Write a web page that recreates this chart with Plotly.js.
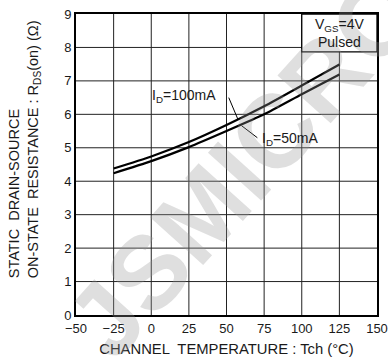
<!DOCTYPE html>
<html>
<head>
<meta charset="utf-8">
<script src="https://cdn.plot.ly/plotly-3.0.1.min.js"></script>
<style>
  html, body { margin: 0; padding: 0; background: #fff; }
  #chart { width: 388px; height: 363px; }
</style>
</head>
<body>
<div id="chart"></div>
<script>
// Channel temperature (°C)
const tempC = [-25, 0, 25, 50, 75, 100, 125];
// Static drain-source on-state resistance (Ω) at VGS = 4 V, pulsed
const rdsId100mA = [4.38, 4.74, 5.17, 5.68, 6.24, 6.86, 7.49];
const rdsId50mA  = [4.24, 4.60, 5.02, 5.50, 6.00, 6.60, 7.19];
const xTicks = [-50, -25, 0, 25, 50, 75, 100, 125, 150];
const yTicks = [0, 1, 2, 3, 4, 5, 6, 7, 8, 9];

const FONT = 'Liberation Sans, Arial, sans-serif';
const INK = '#1a1a1a';

// grid drawn as one line trace through the inner tick values
const gridX = [], gridY = [];
const xLo = xTicks[0], xHi = xTicks[xTicks.length - 1];
const yLo = yTicks[0], yHi = yTicks[yTicks.length - 1];
xTicks.slice(1, -1).forEach(function (v) { gridX.push(v, v, null); gridY.push(yLo, yHi, null); });
yTicks.slice(1, -1).forEach(function (v) { gridX.push(xLo, xHi, null); gridY.push(v, v, null); });

const gridTrace = {
  x: gridX, y: gridY, type: 'scatter', mode: 'lines', connectgaps: false,
  line: { color: '#222222', width: 1 }, hoverinfo: 'skip'
};

const curve = (y, name) => ({
  x: tempC, y: y, name: name, type: 'scatter', mode: 'lines',
  line: { color: '#000000', width: 2.2, shape: 'spline', smoothing: 0.6 },
  hoverinfo: 'skip'
});

const data = [gridTrace, curve(rdsId100mA, 'ID=100mA'), curve(rdsId50mA, 'ID=50mA')];

const layout = {
  width: 388, height: 363,
  margin: { l: 76, r: 11, t: 14, b: 48 },
  paper_bgcolor: '#ffffff', plot_bgcolor: '#ffffff',
  showlegend: false,
  font: { family: FONT, color: INK },
  xaxis: {
    range: [xLo, xHi],
    tickmode: 'array', tickvals: xTicks,
    showline: true, mirror: true, linecolor: '#000000', linewidth: 2,
    showgrid: false, zeroline: false, ticks: '',
    tickfont: { family: FONT, size: 13, color: INK },
    title: { text: 'CHANNEL  TEMPERATURE : Tch (°C)', font: { family: FONT, size: 14.8, color: INK }, standoff: 9 }
  },
  yaxis: {
    range: [yLo, yHi],
    tickmode: 'array', tickvals: yTicks,
    showline: true, mirror: true, linecolor: '#000000', linewidth: 2,
    showgrid: false, zeroline: false, ticks: '',
    tickfont: { family: FONT, size: 13, color: INK }
  },
  shapes: [
    // condition box in the upper-right corner
    { type: 'rect', xref: 'x', yref: 'y', x0: 100, x1: 150, y0: 7.87, y1: 9,
      fillcolor: '#ffffff', line: { color: '#000000', width: 1.3 }, layer: 'above' },
    // leader lines from the curve labels
    { type: 'line', xref: 'x', yref: 'y', x0: 51.5, y0: 6.5, x1: 57.5, y1: 5.86,
      line: { color: '#000000', width: 1 } },
    { type: 'line', xref: 'x', yref: 'y', x0: 60, y0: 5.66, x1: 70.5, y1: 5.3,
      line: { color: '#000000', width: 1 } }
  ],
  annotations: [
    // watermark
    { text: '<b>JSMICRO</b>', xref: 'paper', yref: 'paper', x: 0.56, y: 0.5,
      showarrow: false, textangle: -48,
      font: { family: 'Liberation Sans, Arial, sans-serif', size: 104, color: 'rgba(150,150,150,0.3)' } },
    { text: 'V<sub>GS</sub>=4V<br>Pulsed', xref: 'x', yref: 'y', x: 125, y: 8.43,
      showarrow: false, font: { family: FONT, size: 14, color: INK } },
    { text: 'I<sub>D</sub>=100mA', xref: 'x', yref: 'y', x: 21.5, y: 6.54,
      showarrow: false, font: { family: FONT, size: 14, color: INK } },
    { text: 'I<sub>D</sub>=50mA', xref: 'x', yref: 'y', x: 92, y: 5.27,
      showarrow: false, font: { family: FONT, size: 14, color: INK } },
    // y-axis title, two lines aligned at the bottom
    { text: 'STATIC  DRAIN-SOURCE<br>ON-STATE  RESISTANCE : R<sub>DS</sub>(on) (Ω)',
      xref: 'paper', yref: 'paper', x: -0.17, y: 0.55, xanchor: 'center', yanchor: 'middle',
      showarrow: false, textangle: -90, align: 'left',
      font: { family: FONT, size: 14.5, color: INK } }
  ]
};

Plotly.newPlot('chart', data, layout, { displayModeBar: false });
</script>
</body>
</html>
